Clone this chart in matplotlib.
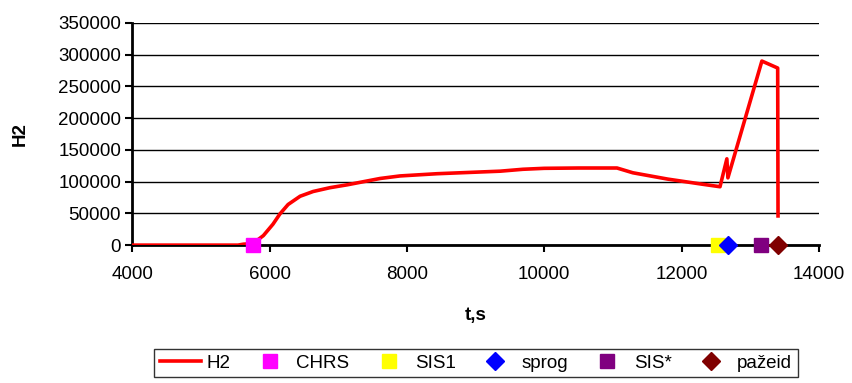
import matplotlib.pyplot as plt
import numpy as np

plt.rcParams['font.family'] = ['Liberation Sans', 'DejaVu Sans']

# H2 curve
t_h2 = [4000, 5540, 5620, 5700, 5800, 5910, 6050, 6150, 6270, 6445, 6635,
        6880, 7130, 7610, 7900, 8440, 9360, 9690, 10000, 10500, 11060, 11290,
        11800, 12300, 12560, 12660, 12675, 13170, 13400, 13405]
h2 = [0, 0, 1500, 2000, 6000, 15000, 33000, 49000, 64000, 77000, 84500,
      90500, 95000, 105000, 109000, 112500, 116500, 119500, 121000, 121500,
      121500, 114000, 104000, 96000, 92000, 136000, 106000, 290000, 279000,
      46000]

# event markers
ev_names = ["CHRS", "SIS1", "sprog", "SIS*", "pa\u017eeid"]
ev_t = [5760, 12530, 12675, 13155, 13400]
ev_col = ["#ff00ff", "#ffff00", "#0000ff", "#800080", "#800000"]
ev_mark = ["s", "s", "D", "s", "D"]

fig = plt.figure(figsize=(8.53, 3.83), dpi=100)
ax = fig.add_axes([0.155, 0.360, 0.805, 0.580])

ax.plot(t_h2, h2, color="#ff0000", lw=2.6, label="H2", zorder=3)
for n, t, c, m in zip(ev_names, ev_t, ev_col, ev_mark):
    ax.plot([t], [0], ls="none", marker=m, color=c, mec=c,
            ms=10 if m == "s" else 9, label=n, clip_on=False, zorder=4)

ax.set_xlim(4000, 14000)
ax.set_ylim(0, 350000)
ax.set_xticks(np.arange(4000, 14001, 2000))
ax.set_yticks(np.arange(0, 350001, 50000))
ax.yaxis.grid(True, color="black", lw=1)
ax.set_axisbelow(True)
for s in ["top", "right"]:
    ax.spines[s].set_visible(False)
for s in ["left", "bottom"]:
    ax.spines[s].set_linewidth(2)
ax.tick_params(axis="both", direction="out", length=5, width=1.5,
               labelsize=13.5, pad=3)
ax.tick_params(axis="x", pad=10)

ax.set_xlabel("t,s", fontsize=13.5, fontweight="bold", labelpad=17)
ax.set_ylabel("H2", fontsize=13.5, fontweight="bold", labelpad=21)

leg = fig.legend(loc="center", bbox_to_anchor=(0.558, 0.052), ncol=6,
                 fontsize=13.5, frameon=True, fancybox=False, edgecolor="black",
                 handlelength=2.2, handletextpad=0.3, columnspacing=1.0,
                 borderpad=0.3)
leg.get_frame().set_linewidth(1)

fig.savefig("out.png", dpi=100)
